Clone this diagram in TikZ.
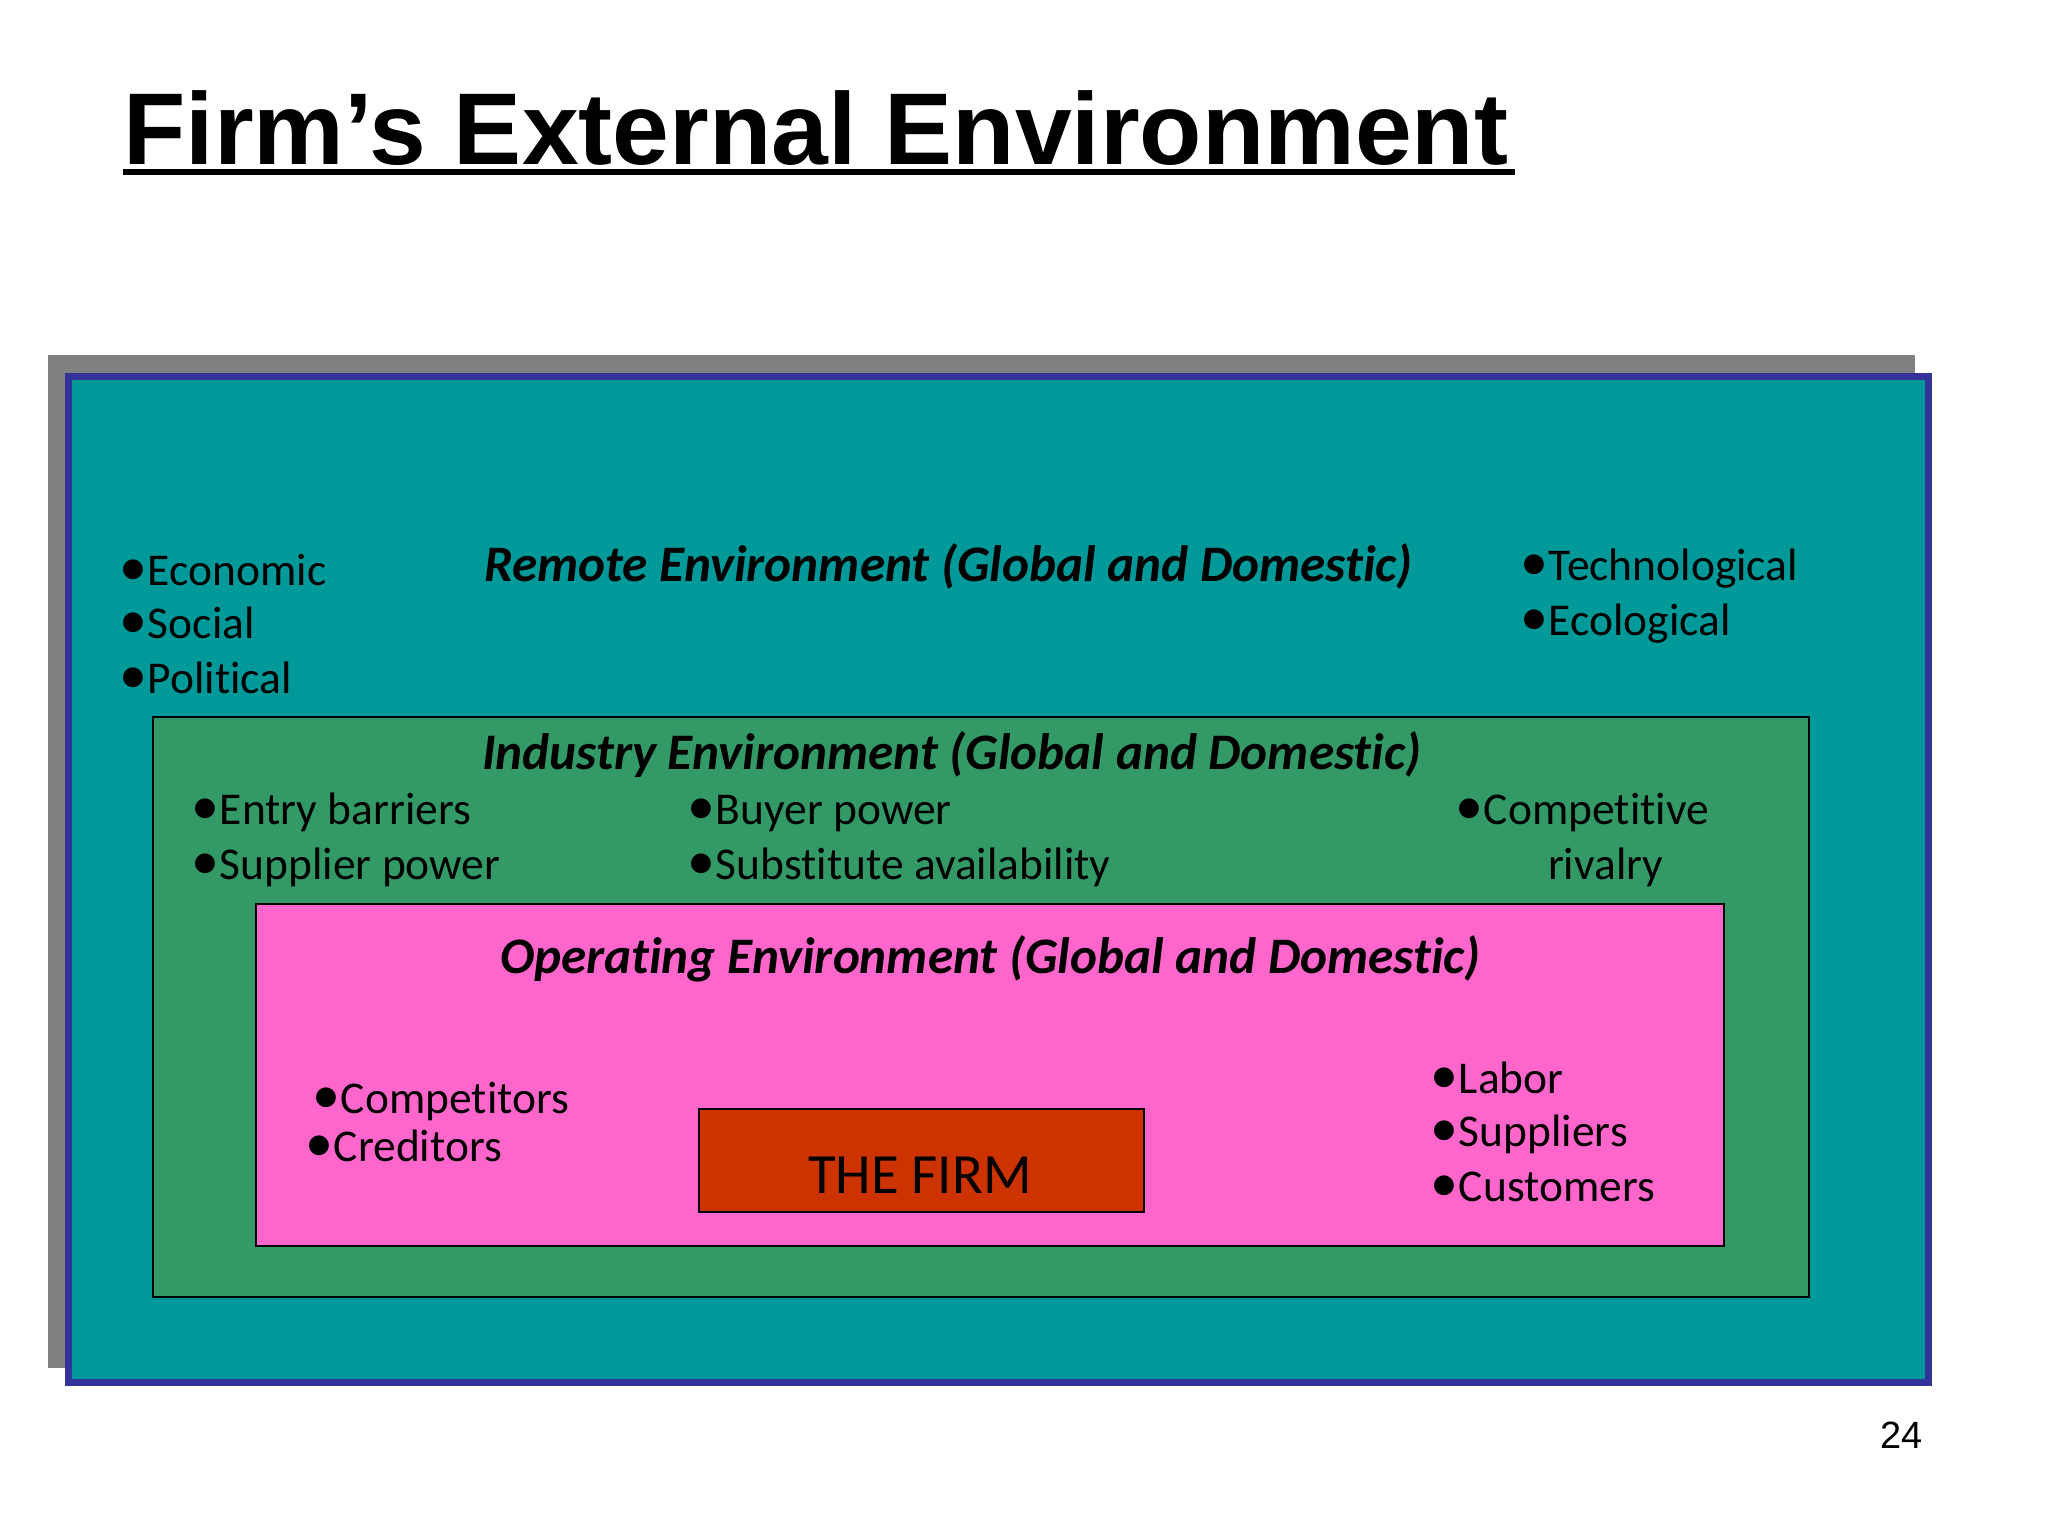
\documentclass[tikz,border=0pt]{standalone}
\usepackage{fontspec}
\setmainfont{Carlito}[Ligatures=NoCommon]
\newfontfamily\arialfont{Liberation Sans}
\newcommand{\bul}{{\fontsize{28}{28}\selectfont •}\kern0.5pt}
\definecolor{tealbg}{HTML}{009999}
\definecolor{greenbg}{HTML}{339966}
\definecolor{pinkbg}{HTML}{FF66CC}
\definecolor{firmbg}{HTML}{CC3300}
\definecolor{frameblue}{HTML}{333399}
\definecolor{shadowgray}{HTML}{808080}
\tikzset{
  txt/.style={anchor=base west, inner sep=0pt, outer sep=0pt, font=\fontsize{22.75}{27}\selectfont},
  head/.style={anchor=base west, inner sep=0pt, outer sep=0pt, font=\fontsize{25.6}{31}\selectfont\bfseries\itshape},
  boxline/.style={draw=black, line width=1pt}
}
\begin{document}
\begin{tikzpicture}[x=0.5pt,y=-0.5pt]
\useasboundingbox (0,0) rectangle (2048,1536);
% shadow and outer frame
\fill[shadowgray] (48,355) rectangle (1915,1368);
\draw[fill=tealbg, draw=frameblue, line width=3.5pt] (68.5,376.5) rectangle (1928.5,1382.5);
% industry
\draw[boxline, fill=greenbg] (153,717) rectangle (1809,1297);
% operating
\draw[boxline, fill=pinkbg] (256,904) rectangle (1724,1246);
% firm
\draw[boxline, fill=firmbg] (699,1109) rectangle (1144,1212);
\node[anchor=base, inner sep=0pt, font=\fontsize{28.4}{34}\selectfont] (firm) at (920,1193) {THE FIRM};

% title
\node[anchor=base west, inner sep=0pt, font=\fontsize{51}{60}\selectfont\arialfont\bfseries] (title) at (123,164) {Firm’s External Environment};
\draw[line width=3pt] (123,172) -- (1515,172);

% remote
\node[head] (remh) at (484,581) {Remote Environment (Global and Domestic)};
\node[txt] (eco) at (119,585) {\bul Economic};
\node[txt] (soc) at (119,638) {\bul Social};
\node[txt] (pol) at (119,693) {\bul Political};
\node[txt] (tec) at (1520,580) {\bul Technological};
\node[txt] (ecol) at (1520,635) {\bul Ecological};

% industry
\node[head] (indh) at (482,769) {Industry Environment (Global and Domestic)};
\node[txt] (entry) at (191,824) {\bul Entry barriers};
\node[txt] (supp) at (191,879) {\bul Supplier power};
\node[txt] (buyer) at (687,824) {\bul Buyer power};
\node[txt] (subst) at (687,879) {\bul Substitute availability};
\node[txt] (comp) at (1455,824) {\bul Competitive};
\node[txt] (riv) at (1548,879) {rivalry};

% operating
\node[head] (oph) at (500,973) {Operating Environment (Global and Domestic)};
\node[txt] (competitors) at (312,1113) {\bul Competitors};
\node[txt] (creditors) at (305,1161) {\bul Creditors};
\node[txt] (labor) at (1430,1093) {\bul Labor};
\node[txt] (suppliers) at (1430,1146) {\bul Suppliers};
\node[txt] (customers) at (1430,1201) {\bul Customers};

% page number
\node[anchor=base west, inner sep=0pt, font=\fontsize{19}{23}\selectfont\arialfont] (page) at (1880,1448) {24};
\end{tikzpicture}
\end{document}
